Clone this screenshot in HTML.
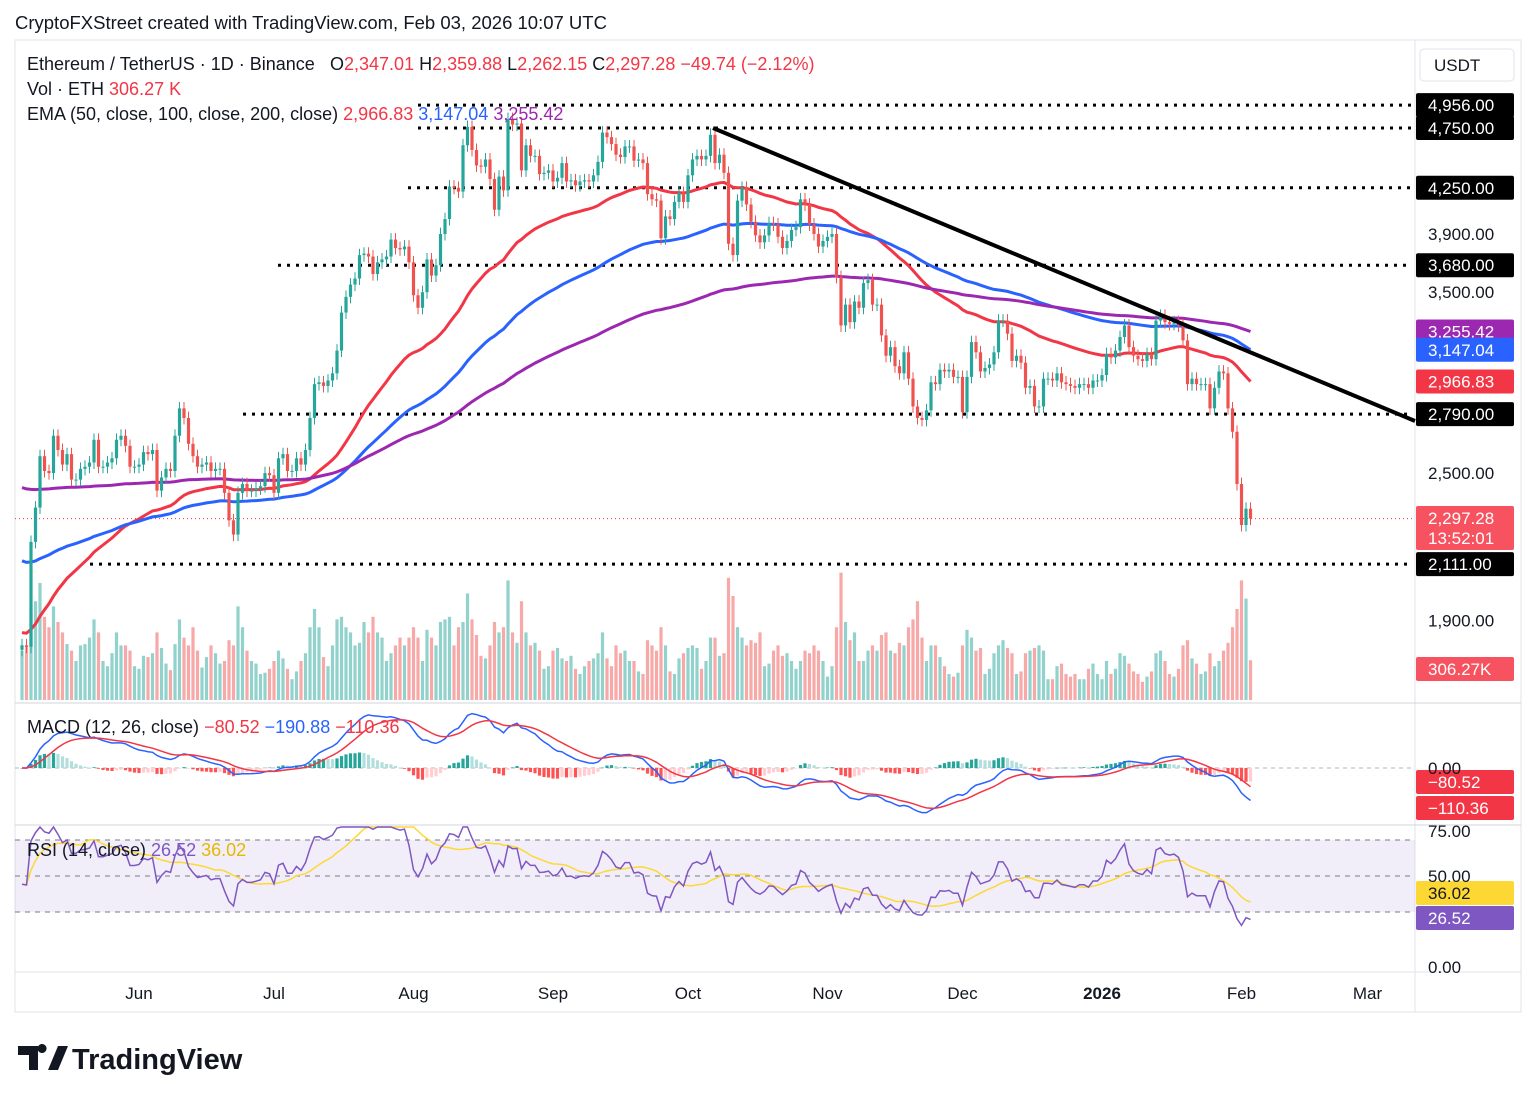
<!DOCTYPE html>
<html><head><meta charset="utf-8"><style>
body{margin:0;background:#fff;font-family:"Liberation Sans",sans-serif;}
svg text{font-family:"Liberation Sans",sans-serif;}
</style></head><body>
<svg id="chart" width="1536" height="1102" viewBox="0 0 1536 1102" xmlns="http://www.w3.org/2000/svg">
<rect x="0" y="0" width="1536" height="1102" fill="#fff"/>
<text x="15" y="29" font-size="18.5" fill="#131722">CryptoFXStreet created with TradingView.com, Feb 03, 2026 10:07 UTC</text>
<rect x="15" y="40" width="1506" height="972" fill="none" stroke="#e0e3eb"/>
<line x1="1415" y1="40" x2="1415" y2="1012" stroke="#e0e3eb"/>
<line x1="15" y1="703" x2="1521" y2="703" stroke="#d1d4dc"/>
<line x1="15" y1="825" x2="1521" y2="825" stroke="#d1d4dc"/>
<line x1="15" y1="972" x2="1521" y2="972" stroke="#e0e3eb"/>
<rect x="15" y="840" width="1400" height="72" fill="#7e57c2" fill-opacity="0.1"/>
<g id="grid"></g>
<g id="vol"></g>
<g id="levels"></g>
<g id="emas"></g>
<g id="candles"></g>
<line x1="713" y1="128" x2="1415" y2="421" stroke="#000" stroke-width="4"/>
<g id="macd"></g>
<g id="rsi"></g>
<g id="axis"></g>
<g font-size="18">
<text x="27" y="70" fill="#131722">Ethereum / TetherUS · 1D · Binance</text>
<text x="330" y="70" fill="#131722">O<tspan fill="#f23645">2,347.01</tspan> H<tspan fill="#f23645">2,359.88</tspan> L<tspan fill="#f23645">2,262.15</tspan> C<tspan fill="#f23645">2,297.28</tspan> <tspan fill="#f23645">−49.74 (−2.12%)</tspan></text>
<text x="27" y="95" fill="#131722">Vol · ETH <tspan fill="#f23645">306.27 K</tspan></text>
<text x="27" y="120" fill="#131722">EMA (50, close, 100, close, 200, close) <tspan fill="#f23645">2,966.83</tspan> <tspan fill="#2962ff">3,147.04</tspan> <tspan fill="#9c27b0">3,255.42</tspan></text>
<text x="27" y="733" fill="#131722">MACD (12, 26, close) <tspan fill="#f23645">−80.52</tspan> <tspan fill="#2962ff">−190.88</tspan> <tspan fill="#f23645">−110.36</tspan></text>
<text x="27" y="856" fill="#131722">RSI (14, close) <tspan fill="#7e57c2">26.52</tspan> <tspan fill="#e6b800">36.02</tspan></text>
</g>
<g>
<path d="M18 1046h20v24h-9v-15h-11z M42 1053a4.5 4.5 0 1 1 0.1 0 M48 1070l10-24h10l-10 24z" fill="#131722"/>
<text x="72" y="1069" font-size="29" font-weight="bold" fill="#131722">TradingView</text>
</g>
</svg>
<script>
const closes=[1815,1810,2200,2345,2580,2510,2500,2680,2610,2540,2590,2470,2470,2520,2530,2550,2660,2530,2530,2550,2570,2660,2680,2630,2530,2530,
2540,2600,2590,2610,2420,2480,2520,2510,2680,2820,2770,2640,2580,2530,2540,2550,2510,2520,2520,2410,2290,2230,2410,2450,2420,2420,2430,2440,2500,2490,
2410,2570,2590,2510,2510,2570,2540,2610,2770,2950,2960,2940,2970,3010,3140,3370,3470,3550,3590,3750,3760,3740,3620,3700,3720,3740,3860,3800,3790,3810,3700,
3480,3400,3500,3720,3610,3680,3900,4010,4260,4250,4220,4600,4760,4560,4430,4420,4480,4320,4080,4340,4230,4830,4780,4790,4390,4600,4510,4510,4360,4370,4390,
4300,4330,4450,4300,4310,4270,4300,4310,4300,4350,4460,4710,4670,4610,4520,4500,4590,4590,4470,4480,4450,4200,4160,4150,3870,4030,4010,4140,4210,4140,
4350,4480,4510,4480,4510,4690,4450,4520,4370,3830,3750,4150,4250,4120,3990,3890,3840,3890,3980,3970,3880,3800,3850,3930,3950,4160,4120,3970,3900,3810,3850,
3880,3900,3600,3290,3420,3310,3440,3400,3560,3580,3420,3420,3230,3110,3160,3050,3010,3130,2980,2830,2770,2760,2810,2960,2950,3030,3020,3030,2990,2990,
2800,2990,3190,3130,3020,3040,3060,3130,3320,3320,3240,3080,3110,3070,2930,2940,2830,2830,2980,2980,2970,3010,2960,2950,2940,2930,2950,2950,2930,2970,2970,
3000,3120,3100,3140,3220,3290,3160,3110,3090,3080,3120,3090,3320,3350,3310,3300,3310,3290,3200,2950,2980,2950,2950,2950,2820,2930,3020,3010,2820,2700,2450,
2270,2340,2297.28];
const volumes=[380,420,700,760,900,640,560,720,600,520,430,380,300,420,430,480,620,520,300,260,360,520,420,420,380,260,
240,340,330,360,520,400,280,230,430,620,480,420,560,380,250,330,420,360,280,300,460,420,720,560,380,300,280,200,210,240,
300,380,320,240,160,220,300,360,560,700,560,330,260,420,620,640,560,520,420,440,600,520,640,520,480,300,360,420,480,420,480,
560,480,300,540,480,420,600,620,640,420,560,600,820,620,500,340,320,420,600,520,560,920,520,440,760,520,420,440,380,240,260,
380,400,320,300,340,240,200,260,300,320,360,520,320,260,420,360,380,300,300,220,200,460,420,380,560,420,220,200,320,360,
400,420,400,240,300,480,480,340,360,940,800,560,480,420,460,440,520,260,280,380,420,340,360,300,240,300,380,360,420,380,300,
180,260,560,980,600,460,520,300,300,380,420,380,500,520,380,360,440,420,560,620,760,480,300,420,420,330,260,200,180,210,
420,540,480,380,400,200,240,360,420,460,400,360,200,220,360,380,400,420,380,160,160,260,280,200,180,200,160,160,240,280,200,
160,300,200,240,360,340,280,220,200,140,180,220,360,380,300,200,180,240,420,460,320,280,200,220,360,260,300,380,440,560,700,
920,780,306];
const firstOpen=1800;
const emaSeeds=[1860,2130,2440];
const levelPrices=[4956,4750,4250,3680,2790,2111];
const levelStartX=[418,418,408,278,243,90];
const axisTicks=[3900,3500,2500,1900];
const monthLabels=["Jun","Jul","Aug","Sep","Oct","Nov","Dec","2026","Feb","Mar"];
const monthDays=[26,56,87,118,148,179,209,240,271,299];

const NS="http://www.w3.org/2000/svg";
function mk(tag,attrs,parent){const e=document.createElementNS(NS,tag);for(const k in attrs)e.setAttribute(k,attrs[k]);parent.appendChild(e);return e;}
const xOf=i=>22+4.5*i;
const py=p=>128+Math.log(4750/p)*537.7;
const G=id=>document.getElementById(id);
const GREEN="#26a69a",RED="#ef5350";
const opens=closes.map((c,i)=>i?closes[i-1]:firstOpen);

const gv=G("vol");
volumes.forEach((v,i)=>{const h=v*0.13;const up=closes[i]>=opens[i];
 const r=mk("rect",{x:xOf(i)-1.6,y:700-h,width:3.2,height:h,fill:up?GREEN:RED,"fill-opacity":0.5},gv);
 
 });

const gl=G("levels");
levelPrices.forEach((p,k)=>{const l=mk("line",{x1:levelStartX[k],y1:py(p),x2:1412,y2:py(p),stroke:"#000","stroke-width":3,"stroke-dasharray":"3 6"},gl);
 
 });
mk("line",{x1:15,y1:py(2297.28),x2:1415,y2:py(2297.28),stroke:"#f23645","stroke-width":1,"stroke-dasharray":"1 3"},gl);

function ema(arr,n,seed){const k=2/(n+1);let e=seed;return arr.map(c=>(e=c*k+e*(1-k)));}
const ema50=ema(closes,50,emaSeeds[0]),ema100=ema(closes,100,emaSeeds[1]),ema200=ema(closes,200,emaSeeds[2]);
const ge=G("emas");
[[ema50,"#f23645","ema-50-line"],[ema100,"#2962ff","ema-100-line"],[ema200,"#9c27b0","ema-200-line"]].forEach(([a,col,nm])=>{
 const d=a.map((v,i)=>(i?"L":"M")+xOf(i).toFixed(1)+" "+Math.min(703,py(v)).toFixed(1)).join(" ");
 const p=mk("path",{d:d,fill:"none",stroke:col,"stroke-width":3},ge);
 
 });

const gc=G("candles");
closes.forEach((c,i)=>{const o=opens[i];const up=c>=o;const col=up?GREEN:RED;
 const hi=Math.max(o,c)*1.012,lo=Math.min(o,c)*0.988;const x=xOf(i);
 const g=mk("g",{},gc);
 
 
 mk("line",{x1:x,y1:py(hi),x2:x,y2:py(lo),stroke:col,"stroke-width":1},g);
 const yt=py(Math.max(o,c)),yb=py(Math.min(o,c));
 mk("rect",{x:x-1.6,y:yt,width:3.2,height:Math.max(1,yb-yt),fill:col},g);});

const e12=ema(closes,12,closes[0]),e26=ema(closes,26,closes[0]);
const macd=e12.map((v,i)=>v-e26[i]);const sig=ema(macd,9,0);
const my=v=>768-v*0.17;
const gm=G("macd");
mk("line",{x1:15,y1:768,x2:1415,y2:768,stroke:"#b2b5be","stroke-dasharray":"4 4"},gm);
macd.forEach((m,i)=>{const h=m-sig[i];const prev=i?macd[i-1]-sig[i-1]:0;
 const col=h>=0?(h>=prev?"#26a69a":"#b2dfdb"):(h<prev?"#ff5252":"#ffcdd2");
 const r=mk("rect",{x:xOf(i)-1.6,y:Math.min(my(h),768),width:3.2,height:Math.max(0.5,Math.abs(h*0.17)),fill:col},gm);
 
 });
[[macd,"#2962ff","macd-line"],[sig,"#f23645","macd-signal-line"]].forEach(([a,col,nm])=>{
 const d=a.map((v,i)=>(i?"L":"M")+xOf(i).toFixed(1)+" "+Math.max(706,Math.min(823,my(v))).toFixed(1)).join(" ");
 const p=mk("path",{d:d,fill:"none",stroke:col,"stroke-width":1.5},gm);
 
 });

let ag=closes[0]*0.01,al=closes[0]*0.012;
const rsi=closes.map((c,i)=>{if(i){const d=c-closes[i-1];ag=(ag*13+Math.max(d,0))/14;al=(al*13+Math.max(-d,0))/14;}return 100-100/(1+ag/al);});
const rsiMa=rsi.map((v,i)=>{const s=rsi.slice(Math.max(0,i-13),i+1);return s.reduce((a,b)=>a+b,0)/s.length;});
const ry=v=>Math.max(827,966-1.8*v);
const gr=G("rsi");
[70,50,30].forEach(v=>mk("line",{x1:15,y1:966-1.8*v,x2:1415,y2:966-1.8*v,stroke:"#787b86","stroke-dasharray":"5 5","stroke-width":1},gr));
[[rsiMa,"#fdd835","rsi-ma-line"],[rsi,"#7e57c2","rsi-line"]].forEach(([a,col,nm])=>{
 const d=a.map((v,i)=>(i?"L":"M")+xOf(i).toFixed(1)+" "+ry(v).toFixed(1)).join(" ");
 const p=mk("path",{d:d,fill:"none",stroke:col,"stroke-width":1.5},gr);
 
 });

const ga=G("axis");
function txt(x,y,s,attrs){const t=mk("text",Object.assign({x:x,y:y,"font-size":17,fill:"#131722"},attrs||{}),ga);t.textContent=s;return t;}
function fmt(v){return v.toLocaleString("en-US",{minimumFractionDigits:2,maximumFractionDigits:2});}
axisTicks.forEach(p=>{const t=txt(1428,py(p)+6,fmt(p));
 
 });
function box(y,label,bg,fg,nm,sub){const h=sub?44:24;
 const g=mk("g",{},ga);
 
 
 mk("rect",{x:1416,y:y-12,width:98,height:h,rx:2,fill:bg},g);
 const t=mk("text",{x:1428,y:y+6,"font-size":17,fill:fg},g);t.textContent=label;
 if(sub){const t2=mk("text",{x:1428,y:y+26,"font-size":17,fill:fg},g);t2.textContent=sub;}}
levelPrices.forEach(p=>box(py(p),fmt(p),"#000","#fff","level-price-label"));
box(py(ema200[ema200.length-1]),"3,255.42","#9c27b0","#fff","ema-200-price-label");
box(py(ema100[ema100.length-1]),"3,147.04","#2962ff","#fff","ema-100-price-label");
box(py(ema50[ema50.length-1]),"2,966.83","#f23645","#fff","ema-50-price-label");
box(518,"2,297.28","#f7525f","#fff","last-price-label","13:52:01");
box(669,"306.27K","#f7525f","#fff","volume-label");
box(782,"−80.52","#f23645","#fff","macd-hist-label");
box(808,"−110.36","#f23645","#fff","macd-signal-label");
box(893,"36.02","#fdd835","#131722","rsi-ma-label");
box(918,"26.52","#7e57c2","#fff","rsi-value-label");
txt(1428,774,"0.00");txt(1428,837,"75.00");txt(1428,882,"50.00");txt(1428,973,"0.00");
const u=mk("g",{},ga);


mk("rect",{x:1420,y:49,width:94,height:32,rx:4,fill:"#fff",stroke:"#e0e3eb"},u);
const ut=mk("text",{x:1434,y:71,"font-size":17,fill:"#131722"},u);ut.textContent="USDT";
monthLabels.forEach((m,k)=>{const t=txt(xOf(monthDays[k]),999,m,{"text-anchor":"middle","font-weight":m==="2026"?"bold":"normal"});
 
 });
</script>
</body></html>
